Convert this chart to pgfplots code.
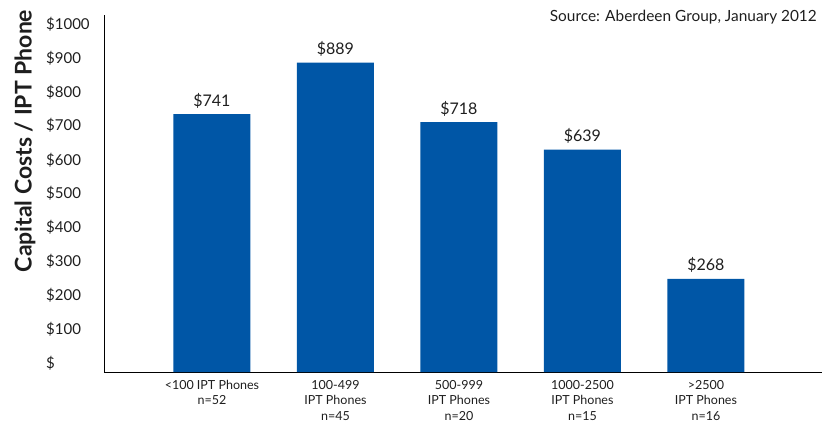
\documentclass[border=0pt]{standalone}
\usepackage{fontspec}
\setmainfont{Lato}
\usepackage{pgfplots}
\pgfplotsset{compat=1.18}
\definecolor{barblue}{RGB}{0,86,166}
\definecolor{txt}{RGB}{30,30,30}

\begin{document}
\begin{tikzpicture}
\clip (0pt,0pt) rectangle (822pt,421pt);
\begin{axis}[
    at={(104pt,49pt)}, anchor=south west,
    scale only axis, width=718pt, height=357pt,
    xmin=-0.874, xmax=4.94, ymin=0, ymax=1026,
    axis x line*=bottom, axis y line*=left,
    axis line style={line width=1pt, black},
    major tick length=0pt,
    ybar, bar width=77pt,
    xtick={0,1,2,3,4},
    xticklabels={{<100 IPT Phones\\n=52},{100-499\\IPT Phones\\n=45},{500-999\\IPT Phones\\n=20},{1000-2500\\IPT Phones\\n=15},{>2500\\IPT Phones\\n=16}},
    xticklabel style={align=center, font=\fontsize{12.5}{15.5}\selectfont, text=txt, inner sep=0pt, yshift=-8pt},
    % labels in the source sit slightly above the true gridline values
    ytick={26,123,221,318,416,513,610,708,805,903,1000},
    yticklabels={\$,\$100,\$200,\$300,\$400,\$500,\$600,\$700,\$800,\$900,\$1000},
    yticklabel style={anchor=west, xshift=-58pt, inner sep=0pt, font=\fontsize{15}{18}\selectfont, text=txt},
    nodes near coords={\$\pgfmathprintnumber[assume math mode=true]{\pgfplotspointmeta}},
    every node near coord/.append style={font=\fontsize{16}{19}\selectfont, text=txt, anchor=south, inner sep=0pt, yshift=6pt},
    clip=false,
]
\addplot[fill=barblue, draw=none] coordinates {(0,741) (1,889) (2,718) (3,639) (4,268)};
\end{axis}
\node[rotate=90, font=\bfseries\fontsize{23}{27}\selectfont, text=txt] at (25pt,280pt) {Capital Costs / IPT Phone};
\node[anchor=east, font=\fontsize{15.4}{18}\selectfont, text=txt, inner sep=0pt] at (817pt,404pt) {Source: Aberdeen Group, January 2012};
\end{tikzpicture}
\end{document}
